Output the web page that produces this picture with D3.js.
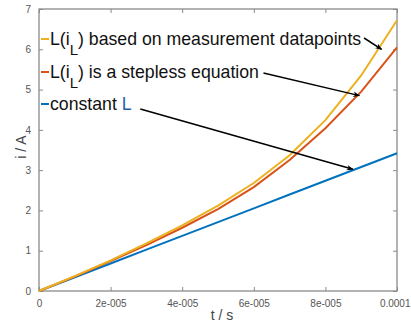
<!DOCTYPE html>
<html>
<head>
<meta charset="utf-8">
<script src="https://d3js.org/d3.v7.min.js"></script>
<style>
  body { margin: 0; background: #fff; }
  text { font-family: "Liberation Sans", Arial, sans-serif; }
</style>
</head>
<body>
<svg id="chart" width="411" height="322"></svg>
<script>
// time in s
var times = [0, 1e-5, 2e-5, 3e-5, 4e-5, 5e-5, 6e-5, 7e-5, 8e-5, 9e-5, 1e-4];
// current in A
var measured = [0, 0.37, 0.76, 1.18, 1.63, 2.12, 2.68, 3.37, 4.24, 5.35, 6.72];
var stepless = [0, 0.36, 0.74, 1.14, 1.57, 2.03, 2.58, 3.25, 4.04, 4.95, 6.05];
var constant = [0, 0.342, 0.684, 1.026, 1.368, 1.71, 2.052, 2.394, 2.736, 3.078, 3.42];

var xTicks = [0, 2e-5, 4e-5, 6e-5, 8e-5, 1e-4];
var xTickLabels = ["0", "2e-005", "4e-005", "6e-005", "8e-005", "0.0001"];
var yTicks = [0, 1, 2, 3, 4, 5, 6, 7];

// arrows: [fromT, fromI, toT, toI]
var arrows = [
  [9.08e-5, 6.28, 9.57e-5, 6.0],
  [6.27e-5, 5.41, 8.95e-5, 4.85],
  [2.83e-5, 4.52, 8.77e-5, 3.02]
];

var series = [
  {name: "measured", values: measured, color: "#EDB120"},
  {name: "stepless", values: stepless, color: "#D95319"},
  {name: "constant", values: constant, color: "#0072BD"}
];

var svg = d3.select("#chart");
// note: "top" is taken by window.top, so use other names
var pl = 39, pt = 9, pr = 397, pb = 291;

var x = d3.scaleLinear().domain([0, 1e-4]).range([pl, pr]);
var y = d3.scaleLinear().domain([0, 7]).range([pb, pt]);

var axisColor = "#8a8a8a";

// box
svg.append("rect")
  .attr("x", pl).attr("y", pt)
  .attr("width", pr - pl).attr("height", pb - pt)
  .attr("fill", "none").attr("stroke", axisColor).attr("stroke-width", 1.3);

var xAxis = svg.append("g").attr("transform", "translate(0," + pb + ")")
  .call(d3.axisBottom(x).tickValues(xTicks).tickSizeInner(-4).tickSizeOuter(0)
    .tickPadding(9).tickFormat(function(d, i) { return xTickLabels[i]; }));
var xTop = svg.append("g").attr("transform", "translate(0," + pt + ")")
  .call(d3.axisTop(x).tickValues(xTicks).tickSizeInner(-4).tickSizeOuter(0).tickFormat(""));
var yAxis = svg.append("g").attr("transform", "translate(" + pl + ",0)")
  .call(d3.axisLeft(y).tickValues(yTicks).tickSizeInner(-4).tickSizeOuter(0)
    .tickPadding(8).tickFormat(d3.format("d")));
var yRight = svg.append("g").attr("transform", "translate(" + pr + ",0)")
  .call(d3.axisRight(y).tickValues(yTicks).tickSizeInner(-4).tickSizeOuter(0).tickFormat(""));

[xAxis, xTop, yAxis, yRight].forEach(function(g) {
  g.select(".domain").remove();
  g.selectAll("line").attr("stroke", axisColor);
  g.selectAll("text").attr("fill", "#555").style("font-size", "10px");
});
// keep the last x label inside the picture
xAxis.selectAll(".tick:last-of-type text").attr("text-anchor", "end").attr("dx", 13);

var line = d3.line()
  .x(function(d, i) { return x(times[i]); })
  .y(function(d) { return y(d); });

series.slice().reverse().forEach(function(s) {
  svg.append("path")
    .datum(s.values)
    .attr("d", line)
    .attr("fill", "none")
    .attr("stroke", s.color)
    .attr("stroke-width", 2);
});

// legend
var legend = [
  {color: "#EDB120", rest: " based on measurement datapoints", sub: true},
  {color: "#D95319", rest: " is a stepless equation", sub: true},
  {color: "#0072BD", rest: "constant ", sub: false}
];
var legY = [45, 78, 110];
legend.forEach(function(l, i) {
  svg.append("line")
    .attr("x1", 41).attr("x2", 49)
    .attr("y1", legY[i] - 6).attr("y2", legY[i] - 6)
    .attr("stroke", l.color).attr("stroke-width", 2);
  var t = svg.append("text").attr("x", 50).attr("y", legY[i])
    .style("font-size", "17.7px").attr("fill", "#111");
  if (l.sub) {
    t.append("tspan").text("L(i");
    t.append("tspan").attr("dy", 10).style("font-size", "15px").text("L");
    t.append("tspan").attr("dy", -10).text(")" + l.rest);
  } else {
    t.append("tspan").text(l.rest);
    t.append("tspan").attr("fill", "#1f5fae").text("L");
  }
});

// arrows
svg.append("defs").append("marker")
  .attr("id", "head").attr("viewBox", "0 0 10 10")
  .attr("refX", 9).attr("refY", 5)
  .attr("markerWidth", 7).attr("markerHeight", 7)
  .attr("markerUnits", "userSpaceOnUse")
  .attr("orient", "auto")
  .append("path").attr("d", "M0,1 L10,5 L0,9 L3,5 Z").attr("fill", "#000");

arrows.forEach(function(a) {
  svg.append("line")
    .attr("x1", x(a[0])).attr("y1", y(a[1]))
    .attr("x2", x(a[2])).attr("y2", y(a[3]))
    .attr("stroke", "#000").attr("stroke-width", 1.5)
    .attr("marker-end", "url(#head)");
});

// axis labels
svg.append("text")
  .attr("x", 222).attr("y", 320)
  .attr("text-anchor", "middle")
  .style("font-size", "14px").attr("fill", "#444")
  .text("t / s");
svg.append("text")
  .attr("transform", "translate(26,147) rotate(-90)")
  .attr("text-anchor", "middle")
  .style("font-size", "14px").attr("fill", "#444")
  .text("i / A");
</script>
</body>
</html>
